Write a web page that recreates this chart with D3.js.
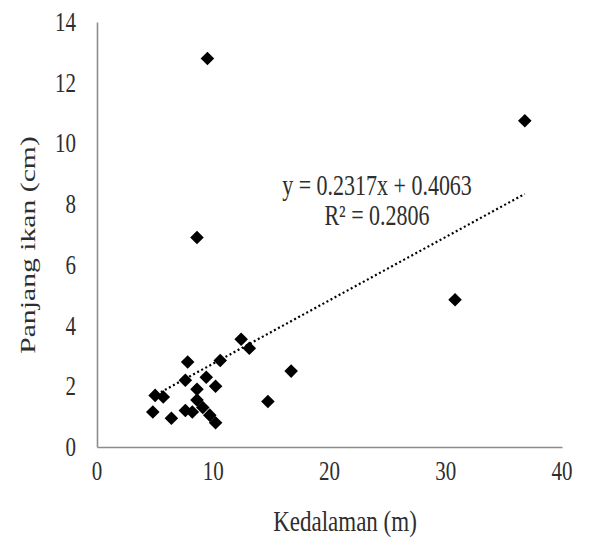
<!DOCTYPE html>
<html>
<head>
<meta charset="utf-8">
<script src="https://cdn.jsdelivr.net/npm/d3@7"></script>
<style>
  body { margin: 0; background: #fff; }
  text { font-family: "Liberation Serif", "Times New Roman", serif; fill: #2e2e2e; }
</style>
</head>
<body>
<script>
// depth (m) and fish length (cm)
var kedalaman = [9.5, 36.8, 8.6, 30.8, 16.7, 14.7, 12.4, 13.1, 10.6, 9.4, 10.2, 7.8,
                 7.6, 5.0, 5.7, 4.8, 6.4, 8.6, 8.6, 7.6, 9.1, 9.7, 10.2, 8.2];
var panjang = [12.8, 10.75, 6.9, 4.85, 2.5, 1.5, 3.55, 3.25, 2.85, 2.3, 2.0, 2.8,
               2.2, 1.7, 1.65, 1.15, 0.95, 1.9, 1.55, 1.2, 1.3, 1.05, 0.8, 1.15];
var xTicks = [0, 10, 20, 30, 40];
var yTicks = [0, 2, 4, 6, 8, 10, 12, 14];
var eqLines = ["y = 0.2317x + 0.4063", "R\u00b2 = 0.2806"];

var width = 615, height = 539;
// the picture is stretched vertically, text follows it
var stretch = 1.3;

var svg = d3.select("body").append("svg")
  .attr("width", width)
  .attr("height", height);

var x = d3.scaleLinear().domain([0, 40]).range([97, 562]);
var y = d3.scaleLinear().domain([0, 14]).range([447, 22]);

var points = kedalaman.map(function(d, i) { return {x: d, y: panjang[i]}; });

// axes: plain gray lines, no tick marks
var xAxis = svg.append("g")
  .attr("transform", "translate(0," + y(0) + ")")
  .call(d3.axisBottom(x).tickValues(xTicks).tickSize(0).tickFormat(""));
var yAxis = svg.append("g")
  .attr("transform", "translate(" + x(0) + ",0)")
  .call(d3.axisLeft(y).tickValues(yTicks).tickSize(0).tickFormat(""));
svg.selectAll(".domain").attr("stroke", "#8c8c8c").attr("stroke-width", 1.6);

// tick labels
svg.selectAll("text.xt")
  .data(xTicks)
  .enter().append("text")
  .attr("class", "xt")
  .attr("text-anchor", "middle")
  .attr("font-size", 21)
  .attr("transform", function(d) { return "translate(" + x(d) + ",480) scale(1," + stretch + ")"; })
  .text(function(d) { return d; });

svg.selectAll("text.yt")
  .data(yTicks)
  .enter().append("text")
  .attr("class", "yt")
  .attr("text-anchor", "end")
  .attr("font-size", 21)
  .attr("transform", function(d) { return "translate(76," + (y(d) + 9) + ") scale(1," + stretch + ")"; })
  .text(function(d) { return d; });

// axis titles
svg.append("text")
  .attr("text-anchor", "middle")
  .attr("font-size", 23)
  .attr("transform", "translate(345,531) scale(1," + stretch + ")")
  .text("Kedalaman (m)");

svg.append("text")
  .attr("text-anchor", "middle")
  .attr("font-size", 22)
  .attr("transform", "translate(35,245) scale(1," + (stretch + 0.05) + ") rotate(-90)")
  .text("Panjang ikan (cm)");

// least squares trend line over the data range
var mx = d3.mean(points, function(d) { return d.x; });
var my = d3.mean(points, function(d) { return d.y; });
var sxy = d3.sum(points, function(d) { return (d.x - mx) * (d.y - my); });
var sxx = d3.sum(points, function(d) { return (d.x - mx) * (d.x - mx); });
var slope = sxy / sxx, intercept = my - slope * mx;
var ext = d3.extent(points, function(d) { return d.x; });

svg.append("path")
  .datum(ext)
  .attr("fill", "none")
  .attr("stroke", "#000")
  .attr("stroke-width", 2.2)
  .attr("stroke-dasharray", "2,2.6")
  .attr("d", d3.line()
    .x(function(d) { return x(d); })
    .y(function(d) { return y(slope * d + intercept); }));

// diamond markers
var diamond = d3.symbol().type(d3.symbolSquare).size(92);
svg.selectAll("path.pt")
  .data(points)
  .enter().append("path")
  .attr("class", "pt")
  .attr("fill", "#000")
  .attr("d", diamond)
  .attr("transform", function(d) { return "translate(" + x(d.x) + "," + y(d.y) + ") rotate(45)"; });

// equation label
svg.selectAll("text.eq")
  .data(eqLines)
  .enter().append("text")
  .attr("class", "eq")
  .attr("text-anchor", "middle")
  .attr("font-size", 22)
  .attr("transform", function(d, i) { return "translate(377," + (195 + i * 30) + ") scale(1," + stretch + ")"; })
  .text(function(d) { return d; });
</script>
</body>
</html>
